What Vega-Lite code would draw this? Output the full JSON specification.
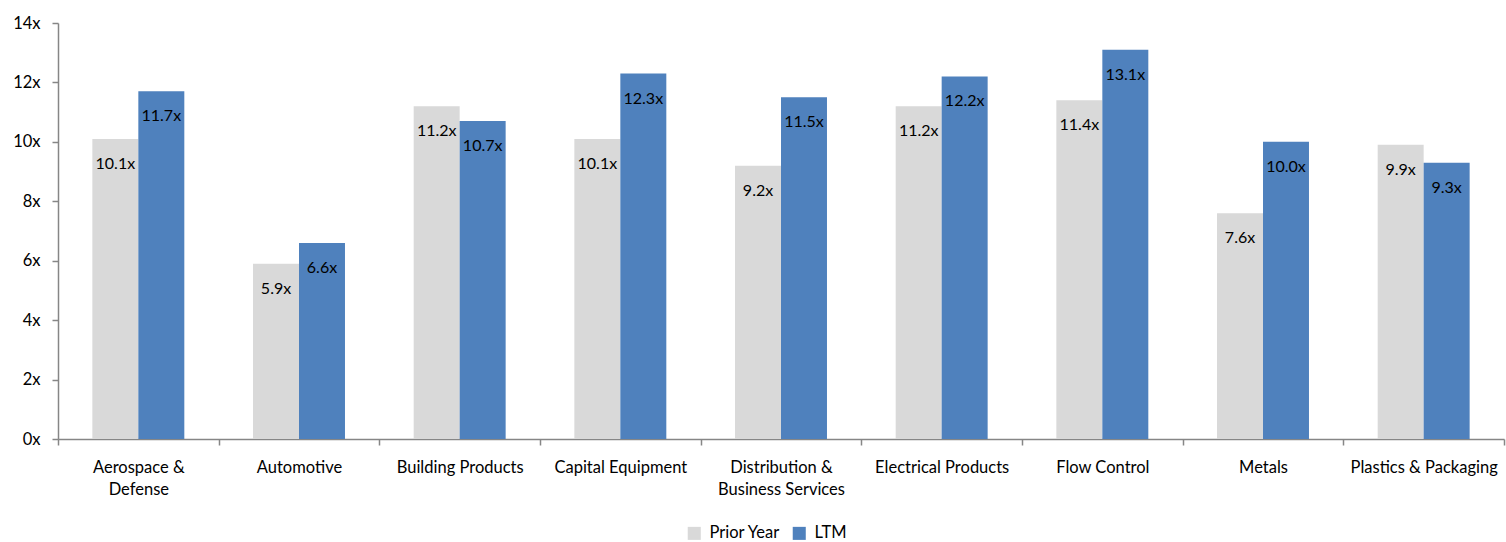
{
  "$schema": "https://vega.github.io/schema/vega-lite/v6.json",
  "autosize": {"type": "none"},
  "width": 1446,
  "height": 416,
  "padding": {"left": 58, "top": 23, "right": 2, "bottom": 103},
  "background": "white",
  "config": {
    "font": "Lato",
    "view": {"stroke": null},
    "axis": {"grid": false, "domainColor": "#868686", "tickColor": "#868686", "labelColor": "#000000", "labelFont": "Lato", "labelFontSize": 16.5, "domainWidth": 1.5, "tickWidth": 1.5}
  },
  "data": {
    "values": [
      {"cat": "Aerospace &|Defense", "series": "Prior Year", "value": 10.1},
      {"cat": "Aerospace &|Defense", "series": "LTM", "value": 11.7},
      {"cat": "Automotive", "series": "Prior Year", "value": 5.9},
      {"cat": "Automotive", "series": "LTM", "value": 6.6},
      {"cat": "Building Products", "series": "Prior Year", "value": 11.2},
      {"cat": "Building Products", "series": "LTM", "value": 10.7},
      {"cat": "Capital Equipment", "series": "Prior Year", "value": 10.1},
      {"cat": "Capital Equipment", "series": "LTM", "value": 12.3},
      {"cat": "Distribution &|Business Services", "series": "Prior Year", "value": 9.2},
      {"cat": "Distribution &|Business Services", "series": "LTM", "value": 11.5},
      {"cat": "Electrical Products", "series": "Prior Year", "value": 11.2},
      {"cat": "Electrical Products", "series": "LTM", "value": 12.2},
      {"cat": "Flow Control", "series": "Prior Year", "value": 11.4},
      {"cat": "Flow Control", "series": "LTM", "value": 13.1},
      {"cat": "Metals", "series": "Prior Year", "value": 7.6},
      {"cat": "Metals", "series": "LTM", "value": 10.0},
      {"cat": "Plastics & Packaging", "series": "Prior Year", "value": 9.9},
      {"cat": "Plastics & Packaging", "series": "LTM", "value": 9.3}
    ]
  },
  "encoding": {
    "x": {
      "field": "cat", "type": "nominal", "sort": null, "title": null,
      "scale": {"paddingInner": 0, "paddingOuter": 0},
      "axis": {"labelAngle": 0, "tickBand": "extent", "tickSize": 6, "labelPadding": 14, "labelLineHeight": 22, "labelBaseline": "top", "labelExpr": "split(datum.label, '|')"}
    },
    "xOffset": {"field": "series", "type": "nominal", "sort": ["Prior Year", "LTM"], "scale": {"paddingInner": 0, "paddingOuter": 0.747}},
    "y": {
      "field": "value", "type": "quantitative", "title": null,
      "scale": {"domain": [0, 14]},
      "axis": {"values": [0, 2, 4, 6, 8, 10, 12, 14], "tickSize": 6, "labelPadding": 12, "labelExpr": "datum.value + 'x'"}
    }
  },
  "layer": [
    {
      "mark": {"type": "bar"},
      "encoding": {
        "color": {
          "field": "series", "type": "nominal", "sort": ["Prior Year", "LTM"],
          "scale": {"domain": ["Prior Year", "LTM"], "range": ["#D9D9D9", "#4F81BD"]},
          "legend": {"title": null, "orient": "none", "legendX": 628, "legendY": 502, "direction": "horizontal", "symbolType": "square", "symbolSize": 170, "labelFontSize": 16.5, "labelFont": "Lato", "labelColor": "#000000", "columnPadding": 10, "labelOffset": 7, "symbolStrokeWidth": 0}
        }
      }
    },
    {
      "transform": [{"calculate": "format(datum.value, '.1f') + 'x'", "as": "label"}],
      "mark": {"type": "text", "baseline": "middle", "align": "center", "dy": 25, "fontSize": 16, "font": "Lato", "color": "#000000"},
      "encoding": {
        "text": {"field": "label", "type": "nominal"}
      }
    }
  ]
}
